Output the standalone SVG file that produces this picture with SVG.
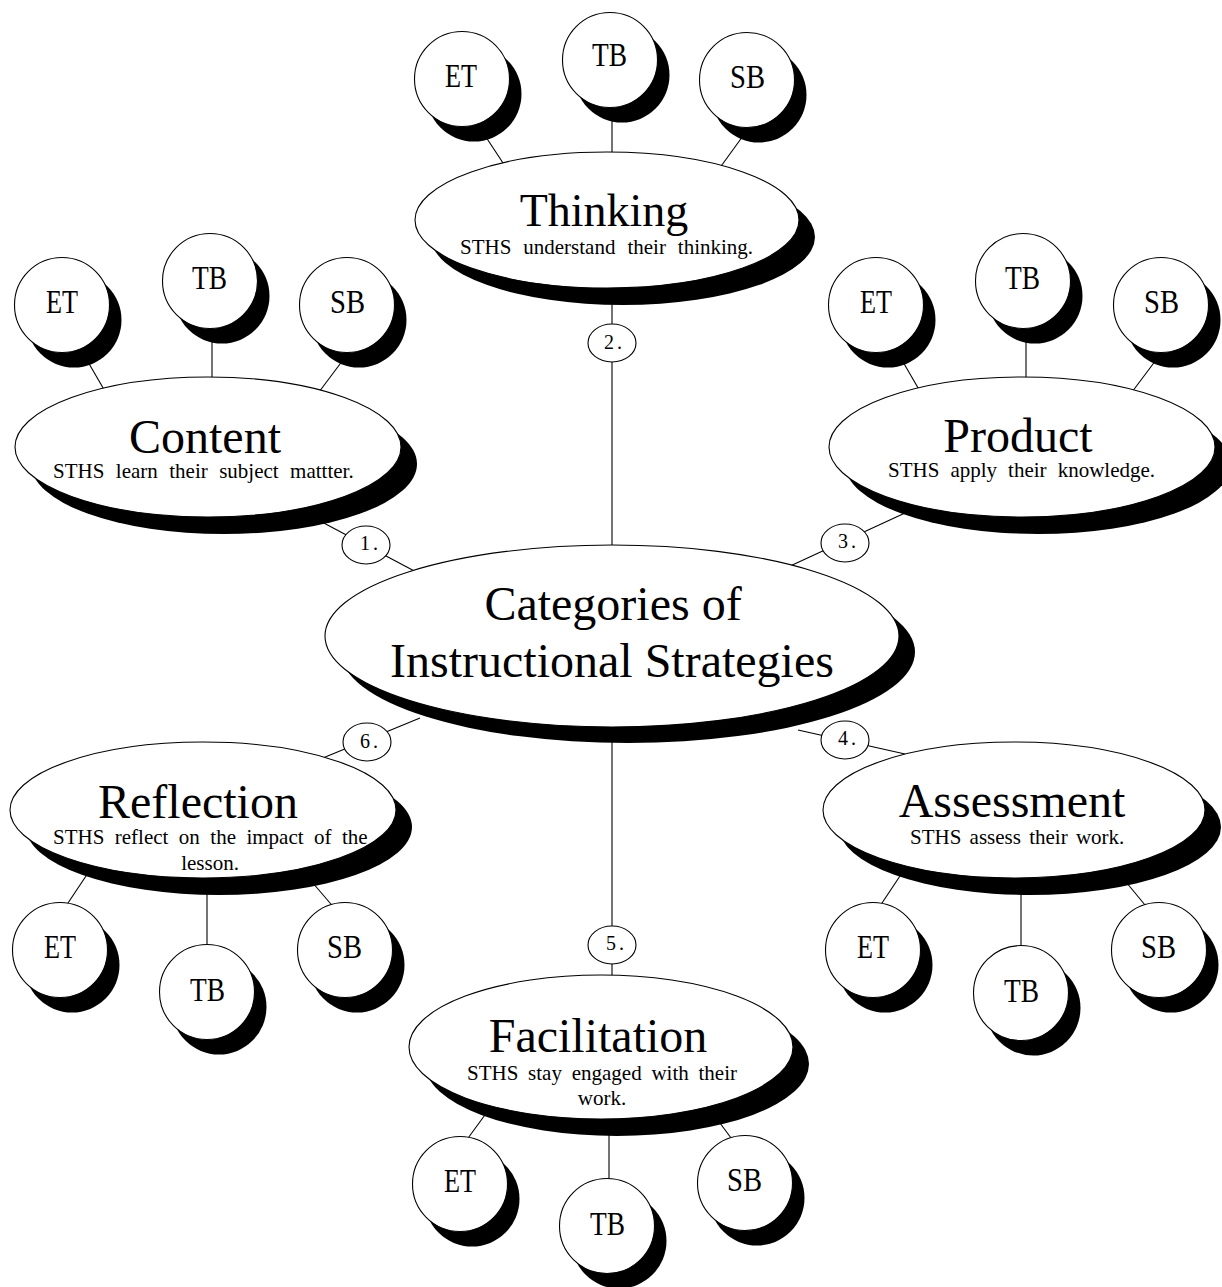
<svg xmlns="http://www.w3.org/2000/svg" width="1222" height="1287" viewBox="0 0 1222 1287">
  <style>
    .ln { stroke: #000; stroke-width: 1.1; fill: none; }
    .sh { fill: #000; stroke: none; }
    .shape { fill: #fff; stroke: #000; stroke-width: 1.1; }
    .num { fill: #fff; stroke: #000; stroke-width: 1.1; }
    text { font-family: "Liberation Serif", "Times New Roman", serif; fill: #000; }
    .title { font-size: 48px; text-anchor: middle; }
    .sub { font-size: 21px; }
    .subc { font-size: 21px; text-anchor: middle; }
    .tag { font-size: 33px; }
    .n { font-size: 20px; letter-spacing: 3px; }
  </style>

  <!-- connectors (drawn beneath the shapes) -->
  <g id="connectors">
    <!-- Thinking -->
    <line class="ln" x1="480" y1="128" x2="505" y2="166"/>
    <line class="ln" x1="612" y1="100" x2="612" y2="156"/>
    <line class="ln" x1="748" y1="129" x2="719" y2="169"/>
    <line class="ln" x1="612" y1="280" x2="612" y2="560"/>
    <!-- Content -->
    <line class="ln" x1="84" y1="355" x2="106" y2="393"/>
    <line class="ln" x1="212" y1="320" x2="212" y2="385"/>
    <line class="ln" x1="346" y1="356" x2="319" y2="392"/>
    <line class="ln" x1="320" y1="521" x2="420" y2="574"/>
    <!-- Product -->
    <line class="ln" x1="899" y1="355" x2="921" y2="393"/>
    <line class="ln" x1="1026" y1="320" x2="1026" y2="385"/>
    <line class="ln" x1="1159" y1="356" x2="1132" y2="392"/>
    <line class="ln" x1="905" y1="513" x2="788" y2="567"/>
    <!-- Reflection -->
    <line class="ln" x1="62" y1="912" x2="88" y2="873"/>
    <line class="ln" x1="207" y1="880" x2="207" y2="950"/>
    <line class="ln" x1="336" y1="910" x2="312" y2="882"/>
    <line class="ln" x1="318" y1="760" x2="420" y2="718"/>
    <!-- Assessment -->
    <line class="ln" x1="876" y1="912" x2="902" y2="873"/>
    <line class="ln" x1="1021" y1="880" x2="1021" y2="950"/>
    <line class="ln" x1="1150" y1="911" x2="1126" y2="882"/>
    <line class="ln" x1="798" y1="730" x2="905" y2="754"/>
    <!-- Facilitation -->
    <line class="ln" x1="612" y1="720" x2="612" y2="990"/>
    <line class="ln" x1="463" y1="1145" x2="490" y2="1108"/>
    <line class="ln" x1="609" y1="1110" x2="609" y2="1185"/>
    <line class="ln" x1="737" y1="1146" x2="714" y2="1115"/>
  </g>

  <!-- Thinking branch -->
  <g id="thinking-et">
    <circle class="sh" cx="474" cy="94" r="47.5"/>
    <circle class="shape" cx="462" cy="79" r="47.5"/>
    <text class="tag" x="445" y="87" textLength="32" lengthAdjust="spacingAndGlyphs">ET</text>
  </g>
  <g id="thinking-tb">
    <circle class="sh" cx="622" cy="75" r="47.5"/>
    <circle class="shape" cx="610" cy="60" r="47.5"/>
    <text class="tag" x="592" y="66" textLength="35" lengthAdjust="spacingAndGlyphs">TB</text>
  </g>
  <g id="thinking-sb">
    <circle class="sh" cx="759" cy="95" r="47.5"/>
    <circle class="shape" cx="747" cy="80" r="47.5"/>
    <text class="tag" x="730" y="88" textLength="35" lengthAdjust="spacingAndGlyphs">SB</text>
  </g>
  <g id="thinking">
    <ellipse class="sh" cx="623" cy="237" rx="192" ry="68"/>
    <ellipse class="shape" cx="607" cy="220" rx="192" ry="68"/>
    <text class="title" x="604" y="226" style="font-size:46px">Thinking</text>
    <text class="sub" x="460" y="254" word-spacing="6.7">STHS understand their thinking.</text>
  </g>

  <!-- Content branch -->
  <g id="content-et">
    <circle class="sh" cx="74" cy="320" r="47.5"/>
    <circle class="shape" cx="62" cy="305" r="47.5"/>
    <text class="tag" x="46" y="313" textLength="32" lengthAdjust="spacingAndGlyphs">ET</text>
  </g>
  <g id="content-tb">
    <circle class="sh" cx="222" cy="296" r="47.5"/>
    <circle class="shape" cx="210" cy="281" r="47.5"/>
    <text class="tag" x="192" y="289" textLength="35" lengthAdjust="spacingAndGlyphs">TB</text>
  </g>
  <g id="content-sb">
    <circle class="sh" cx="359" cy="320" r="47.5"/>
    <circle class="shape" cx="347" cy="305" r="47.5"/>
    <text class="tag" x="330" y="313" textLength="35" lengthAdjust="spacingAndGlyphs">SB</text>
  </g>
  <g id="content">
    <ellipse class="sh" cx="224" cy="464" rx="193" ry="70"/>
    <ellipse class="shape" cx="208" cy="447" rx="193" ry="70"/>
    <text class="title" x="205" y="453">Content</text>
    <text class="sub" x="53" y="478" word-spacing="6.2">STHS learn their subject mattter.</text>
  </g>

  <!-- Product branch -->
  <g id="product-et">
    <circle class="sh" cx="888" cy="320" r="47.5"/>
    <circle class="shape" cx="876" cy="305" r="47.5"/>
    <text class="tag" x="860" y="313" textLength="32" lengthAdjust="spacingAndGlyphs">ET</text>
  </g>
  <g id="product-tb">
    <circle class="sh" cx="1035" cy="296" r="47.5"/>
    <circle class="shape" cx="1023" cy="281" r="47.5"/>
    <text class="tag" x="1005" y="289" textLength="35" lengthAdjust="spacingAndGlyphs">TB</text>
  </g>
  <g id="product-sb">
    <circle class="sh" cx="1173" cy="320" r="47.5"/>
    <circle class="shape" cx="1161" cy="305" r="47.5"/>
    <text class="tag" x="1144" y="313" textLength="35" lengthAdjust="spacingAndGlyphs">SB</text>
  </g>
  <g id="product">
    <ellipse class="sh" cx="1038" cy="464" rx="193" ry="70"/>
    <ellipse class="shape" cx="1022" cy="447" rx="193" ry="70"/>
    <text class="title" x="1018" y="452">Product</text>
    <text class="sub" x="888" y="477" word-spacing="5.8">STHS apply their knowledge.</text>
  </g>

  <!-- Centre node -->
  <g id="categories">
    <ellipse class="sh" cx="628" cy="652" rx="287" ry="91"/>
    <ellipse class="shape" cx="612" cy="636" rx="287" ry="91"/>
    <text class="title" x="613" y="620">Categories of</text>
    <text class="title" x="612" y="677">Instructional Strategies</text>
  </g>

  <!-- Numbered markers -->
  <g id="marker-1">
    <ellipse class="num" cx="366" cy="545" rx="24" ry="19"/>
    <text class="n" x="360" y="550">1.</text>
  </g>
  <g id="marker-2">
    <ellipse class="num" cx="612" cy="343" rx="24" ry="19"/>
    <text class="n" x="604" y="349">2.</text>
  </g>
  <g id="marker-3">
    <ellipse class="num" cx="845" cy="543" rx="24" ry="19"/>
    <text class="n" x="838" y="548">3.</text>
  </g>
  <g id="marker-4">
    <ellipse class="num" cx="845" cy="740" rx="24" ry="19"/>
    <text class="n" x="838" y="745">4.</text>
  </g>
  <g id="marker-5">
    <ellipse class="num" cx="612" cy="945" rx="24" ry="19"/>
    <text class="n" x="606" y="950">5.</text>
  </g>
  <g id="marker-6">
    <ellipse class="num" cx="367" cy="742" rx="24" ry="19"/>
    <text class="n" x="360" y="748">6.</text>
  </g>

  <!-- Reflection branch -->
  <g id="reflection">
    <ellipse class="sh" cx="219" cy="827" rx="193" ry="68"/>
    <ellipse class="shape" cx="203" cy="810" rx="193" ry="68"/>
    <text class="title" x="198" y="818">Reflection</text>
    <text class="sub" x="53" y="844" word-spacing="5.2">STHS reflect on the impact of the</text>
    <text class="subc" x="210" y="870">lesson.</text>
  </g>
  <g id="reflection-et">
    <circle class="sh" cx="72" cy="965" r="47.5"/>
    <circle class="shape" cx="60" cy="950" r="47.5"/>
    <text class="tag" x="44" y="958" textLength="32" lengthAdjust="spacingAndGlyphs">ET</text>
  </g>
  <g id="reflection-tb">
    <circle class="sh" cx="219" cy="1007" r="47.5"/>
    <circle class="shape" cx="207" cy="992" r="47.5"/>
    <text class="tag" x="190" y="1001" textLength="35" lengthAdjust="spacingAndGlyphs">TB</text>
  </g>
  <g id="reflection-sb">
    <circle class="sh" cx="357" cy="965" r="47.5"/>
    <circle class="shape" cx="345" cy="950" r="47.5"/>
    <text class="tag" x="327" y="958" textLength="35" lengthAdjust="spacingAndGlyphs">SB</text>
  </g>

  <!-- Assessment branch -->
  <g id="assessment">
    <ellipse class="sh" cx="1030" cy="827" rx="191" ry="68"/>
    <ellipse class="shape" cx="1014" cy="810" rx="191" ry="68"/>
    <text class="title" x="1012" y="817">Assessment</text>
    <text class="sub" x="910" y="844" word-spacing="3">STHS assess their work.</text>
  </g>
  <g id="assessment-et">
    <circle class="sh" cx="885" cy="965" r="47.5"/>
    <circle class="shape" cx="873" cy="950" r="47.5"/>
    <text class="tag" x="857" y="958" textLength="32" lengthAdjust="spacingAndGlyphs">ET</text>
  </g>
  <g id="assessment-tb">
    <circle class="sh" cx="1033" cy="1008" r="47.5"/>
    <circle class="shape" cx="1021" cy="993" r="47.5"/>
    <text class="tag" x="1004" y="1002" textLength="35" lengthAdjust="spacingAndGlyphs">TB</text>
  </g>
  <g id="assessment-sb">
    <circle class="sh" cx="1171" cy="965" r="47.5"/>
    <circle class="shape" cx="1159" cy="950" r="47.5"/>
    <text class="tag" x="1141" y="958" textLength="35" lengthAdjust="spacingAndGlyphs">SB</text>
  </g>

  <!-- Facilitation branch -->
  <g id="facilitation">
    <ellipse class="sh" cx="617" cy="1064" rx="192" ry="72"/>
    <ellipse class="shape" cx="601" cy="1047" rx="192" ry="72"/>
    <text class="title" x="598" y="1052">Facilitation</text>
    <text class="sub" x="467" y="1080" word-spacing="4.5">STHS stay engaged with their</text>
    <text class="subc" x="602" y="1105">work.</text>
  </g>
  <g id="facilitation-et">
    <circle class="sh" cx="472" cy="1199" r="47.5"/>
    <circle class="shape" cx="460" cy="1184" r="47.5"/>
    <text class="tag" x="444" y="1192" textLength="32" lengthAdjust="spacingAndGlyphs">ET</text>
  </g>
  <g id="facilitation-tb">
    <circle class="sh" cx="619" cy="1241" r="47.5"/>
    <circle class="shape" cx="607" cy="1226" r="47.5"/>
    <text class="tag" x="590" y="1235" textLength="35" lengthAdjust="spacingAndGlyphs">TB</text>
  </g>
  <g id="facilitation-sb">
    <circle class="sh" cx="757" cy="1198" r="47.5"/>
    <circle class="shape" cx="745" cy="1183" r="47.5"/>
    <text class="tag" x="727" y="1191" textLength="35" lengthAdjust="spacingAndGlyphs">SB</text>
  </g>
</svg>
